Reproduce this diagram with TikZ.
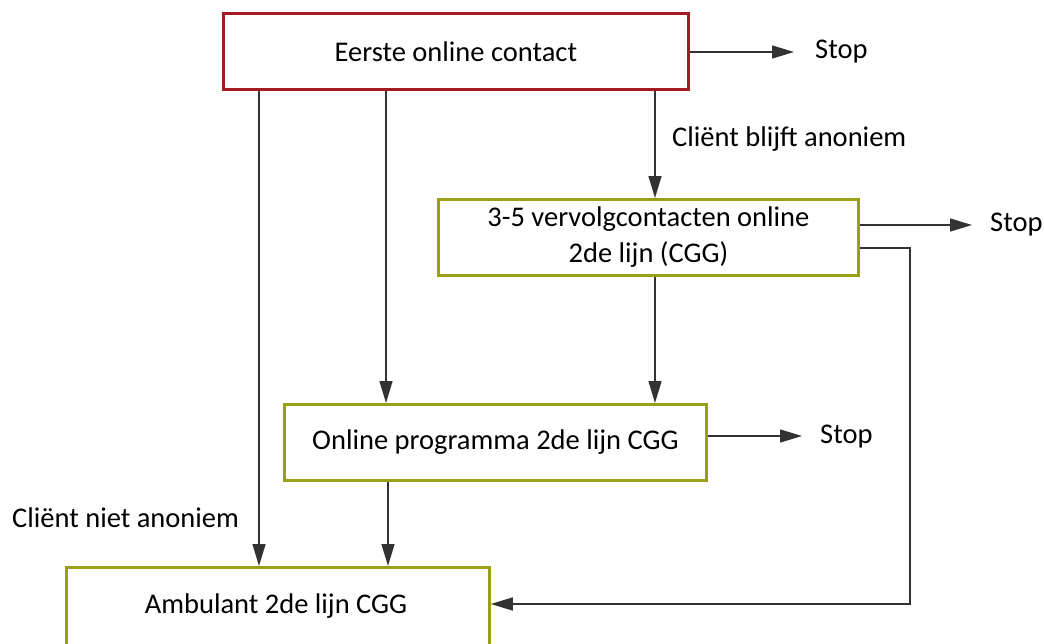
\documentclass[tikz,border=0pt]{standalone}
\usepackage{fontspec}
\setmainfont{Carlito}
\usetikzlibrary{arrows.meta}
\definecolor{boxred}{HTML}{A31A22}
\definecolor{boxgreen}{HTML}{9AA015}
\definecolor{lineg}{HTML}{333333}
\begin{document}
\begin{tikzpicture}[x=1pt,y=-1pt,
  box/.style={draw, line width=2.8pt, minimum height=76pt, inner sep=0pt, font=\fontsize{28.5}{36}\selectfont, align=center, anchor=north west},
  redbox/.style={box, draw=boxred},
  greenbox/.style={box, draw=boxgreen},
  lbl/.style={font=\fontsize{28.5}{34}\selectfont, inner sep=0pt},
  conn/.style={draw=lineg, line width=1.5pt, -{Triangle[length=22pt,width=13pt]}},
  plain/.style={draw=lineg, line width=1.5pt}]
\useasboundingbox (0,0) rectangle (1044,643);
\fill[white] (0,0) rectangle (1044,643);
\node[redbox, minimum width=465pt] (eerste) at (222,12) {Eerste online contact};
\node[greenbox, minimum width=420pt] (vervolg) at (437,198) {3-5 vervolgcontacten online\\2de lijn (CGG)};
\node[greenbox, minimum width=422pt] (prog) at (283,403) {Online programma 2de lijn CGG};
\node[greenbox, minimum width=423pt, minimum height=80pt] (amb) at (65,566) {};
\node[lbl] (ambtxt) at (276,606) {Ambulant 2de lijn CGG};
\node[lbl, anchor=west] (stop1) at (815,52) {Stop};
\node[lbl, anchor=west] (stop2) at (990,225) {Stop};
\node[lbl, anchor=west] (stop3) at (820,437) {Stop};
\node[lbl, anchor=west] (blijft) at (672,139) {Cliënt blijft anoniem};
\node[lbl, anchor=west] (niet) at (12,518) {Cliënt niet anoniem};
\coordinate (s1) at (794,52);
\coordinate (s2) at (972,225);
\coordinate (s3) at (802,436);
\coordinate (c1) at (910,248);
\coordinate (c2) at (910,604);
\draw[conn] (eerste.east |- s1) -- (s1);
\draw[conn] (vervolg.east |- s2) -- (s2);
\draw[conn] (prog.east |- s3) -- (s3);
\draw[conn] (eerste.south -| 655,0) -- (vervolg.north -| 655,0);
\draw[conn] (eerste.south -| 386,0) -- (prog.north -| 386,0);
\draw[conn] (eerste.south -| 259,0) -- (amb.north -| 259,0);
\draw[conn] (vervolg.south -| 655,0) -- (prog.north -| 655,0);
\draw[conn] (prog.south -| 388,0) -- (amb.north -| 388,0);
\draw[conn] (vervolg.east |- c1) -- (c1) -- (c2) -- (amb.east |- c2);
\end{tikzpicture}
\end{document}
